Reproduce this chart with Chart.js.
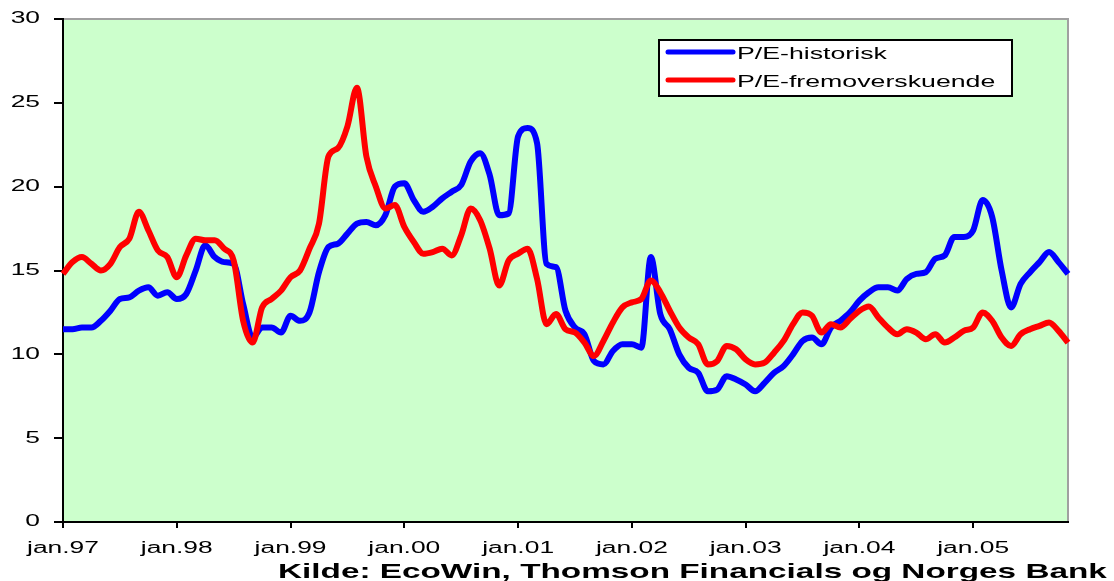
<!DOCTYPE html>
<html>
<head>
<meta charset="utf-8">
<script src="https://cdn.jsdelivr.net/npm/chart.js@4.4.1/dist/chart.umd.min.js"></script>
<style>
  html, body { margin: 0; padding: 0; background: #ffffff; }
  canvas { display: block; }
</style>
</head>
<body>
<canvas id="pe" width="1114" height="581"></canvas>
<script>
// Month names and year suffixes used for the category axis (jan.97 ... nov.05)
const monthNames = ['jan', 'feb', 'mar', 'apr', 'mai', 'jun', 'jul', 'aug', 'sep', 'okt', 'nov', 'des'];
const yearSuffixes = ['97', '98', '99', '00', '01', '02', '03', '04', '05'];

// Series names
const seriesNames = ['P/E-historisk', 'P/E-fremoverskuende'];

// Monthly P/E, historical earnings
const peHistorisk = [
  11.5, 11.5, 11.6, 11.6, 12.0, 12.6, 13.3, 13.4, 13.8, 14.0, 13.5, 13.7,
  13.3, 13.6, 15.0, 16.5, 15.8, 15.5, 15.4, 13.0, 11.0, 11.6, 11.6, 11.3,
  12.3, 12.0, 12.5, 14.9, 16.4, 16.6, 17.2, 17.8, 17.9, 17.7, 18.3, 20.0,
  20.2, 19.2, 18.5, 18.8, 19.3, 19.7, 20.1, 21.5, 22.0, 20.7, 18.3, 18.4,
  23.0, 23.5, 22.6, 15.4, 15.2, 12.6, 11.6, 11.2, 9.6, 9.4, 10.2, 10.6,
  10.6, 10.4, 15.8, 12.4, 11.5, 10.0, 9.2, 8.9, 7.8, 7.9, 8.7, 8.5,
  8.2, 7.8, 8.3, 8.9, 9.3, 10.0, 10.8, 11.0, 10.6, 11.6, 12.0, 12.5,
  13.2, 13.7, 14.0, 14.0, 13.8, 14.5, 14.8, 14.9, 15.7, 15.9, 17.0, 17.0,
  17.4, 19.2, 18.2, 15.0, 12.8, 14.2, 14.9, 15.5, 16.1, 15.5, 14.8
];

// Monthly P/E, forward-looking earnings
const peFremover = [
  14.8, 15.5, 15.8, 15.4, 15.0, 15.4, 16.4, 16.9, 18.5, 17.4, 16.2, 15.8,
  14.6, 15.9, 16.9, 16.8, 16.8, 16.3, 15.6, 12.0, 10.7, 12.8, 13.3, 13.8,
  14.6, 15.0, 16.3, 17.8, 21.8, 22.3, 23.6, 25.9, 21.8, 20.0, 18.7, 18.9,
  17.6, 16.7, 16.0, 16.1, 16.3, 15.9, 17.1, 18.7, 18.0, 16.3, 14.1, 15.6,
  16.0, 16.3, 14.5, 11.8, 12.4, 11.5, 11.3, 10.7, 9.9, 10.8, 11.9, 12.8,
  13.1, 13.3, 14.4, 13.7, 12.6, 11.6, 11.0, 10.6, 9.4, 9.6, 10.5, 10.3,
  9.7, 9.4, 9.5, 10.1, 10.8, 11.8, 12.5, 12.3, 11.3, 11.8, 11.6, 12.1,
  12.6, 12.85, 12.2, 11.6, 11.2, 11.5, 11.3, 10.9, 11.2, 10.7, 11.0, 11.4,
  11.6, 12.5, 12.0, 11.0, 10.5, 11.2, 11.5, 11.7, 11.9, 11.4, 10.7
];

const sourceNote = 'Kilde: EcoWin, Thomson Financials og Norges Bank';

// Category labels, one per month of data
const months = [];
for (const y of yearSuffixes) {
  for (const m of monthNames) months.push(m + '.' + y);
}
months.length = peHistorisk.length;

// Text is drawn wide, with a horizontal stretch
const TEXT_STRETCH = 1.65;
function wideText(ctx, str, x, y, font, align, baseline) {
  ctx.save();
  ctx.font = font;
  ctx.fillStyle = '#000000';
  ctx.textAlign = align;
  ctx.textBaseline = baseline;
  ctx.translate(x, y);
  ctx.scale(TEXT_STRETCH, 1);
  ctx.fillText(str, 0, 0);
  ctx.restore();
}

const TICK_FONT = '16px "Liberation Sans", Arial, sans-serif';
const LEGEND_FONT = '16.2px "Liberation Sans", Arial, sans-serif';
const NOTE_FONT = 'bold 20.2px "Liberation Sans", Arial, sans-serif';

const frame = {
  id: 'frame',
  beforeDraw(chart) {
    const { ctx, chartArea: a } = chart;
    ctx.save();
    ctx.fillStyle = '#CCFFCC';
    ctx.fillRect(a.left, a.top, a.right - a.left, a.bottom - a.top);
    ctx.strokeStyle = '#A0A0A0';
    ctx.lineWidth = 2;
    ctx.beginPath();
    ctx.moveTo(a.left, a.top);
    ctx.lineTo(a.right, a.top);
    ctx.lineTo(a.right, a.bottom);
    ctx.stroke();
    ctx.restore();
  },
  afterDraw(chart) {
    const { ctx } = chart;
    const xs = chart.scales.x;
    const ys = chart.scales.y;

    // y tick labels
    ys.ticks.forEach((t) => {
      wideText(ctx, String(t.value), 40, ys.getPixelForValue(t.value), TICK_FONT, 'right', 'middle');
    });
    // x tick labels (January of each year)
    xs.ticks.forEach((t, i) => {
      if (t.label) wideText(ctx, t.label, xs.getPixelForTick(i), 553, TICK_FONT, 'center', 'alphabetic');
    });

    // legend box
    const bx = 659, by = 40, bw = 353, bh = 56;
    ctx.save();
    ctx.fillStyle = '#FFFFFF';
    ctx.fillRect(bx, by, bw, bh);
    ctx.strokeStyle = '#000000';
    ctx.lineWidth = 2;
    ctx.strokeRect(bx, by, bw, bh);
    ctx.restore();
    chart.data.datasets.forEach((ds, i) => {
      const ly = 52 + i * 28;
      ctx.save();
      ctx.strokeStyle = ds.borderColor;
      ctx.lineWidth = 5;
      ctx.lineCap = 'round';
      ctx.beginPath();
      ctx.moveTo(668, ly);
      ctx.lineTo(733, ly);
      ctx.stroke();
      ctx.restore();
      wideText(ctx, ds.label, 737, ly + 7, LEGEND_FONT, 'left', 'alphabetic');
    });

    // source note
    wideText(ctx, sourceNote, 278, 578, NOTE_FONT, 'left', 'alphabetic');
  }
};

new Chart(document.getElementById('pe'), {
  type: 'line',
  data: {
    labels: months,
    datasets: [
      {
        label: seriesNames[0],
        data: peHistorisk,
        borderColor: '#0000FF',
        borderWidth: 6,
        pointRadius: 0,
        cubicInterpolationMode: 'monotone',
        order: 1
      },
      {
        label: seriesNames[1],
        data: peFremover,
        borderColor: '#FF0000',
        borderWidth: 6,
        pointRadius: 0,
        cubicInterpolationMode: 'monotone',
        order: 0
      }
    ]
  },
  options: {
    responsive: false,
    devicePixelRatio: 1,
    animation: false,
    layout: { padding: { top: 19, right: 46, left: 0, bottom: 0 } },
    plugins: { legend: { display: false }, tooltip: { enabled: false } },
    scales: {
      x: {
        type: 'category',
        offset: false,
        afterFit(s) { s.height = 59; },
        border: { display: true, color: '#000000', width: 2 },
        grid: {
          drawOnChartArea: false,
          drawTicks: true,
          tickLength: 6,
          lineWidth: 2,
          color: (c) => (c.tick && c.tick.label ? '#000000' : 'rgba(0,0,0,0)')
        },
        ticks: {
          display: false,
          autoSkip: false,
          callback: (v, i) => (months[i].startsWith('jan') ? months[i] : null)
        }
      },
      y: {
        min: 0,
        max: 30,
        afterFit(s) { s.width = 63; },
        border: { display: true, color: '#000000', width: 2 },
        grid: { drawOnChartArea: false, drawTicks: true, tickLength: 9, lineWidth: 2, color: '#000000' },
        ticks: { display: false, stepSize: 5 }
      }
    }
  },
  plugins: [frame]
});
</script>
</body>
</html>
